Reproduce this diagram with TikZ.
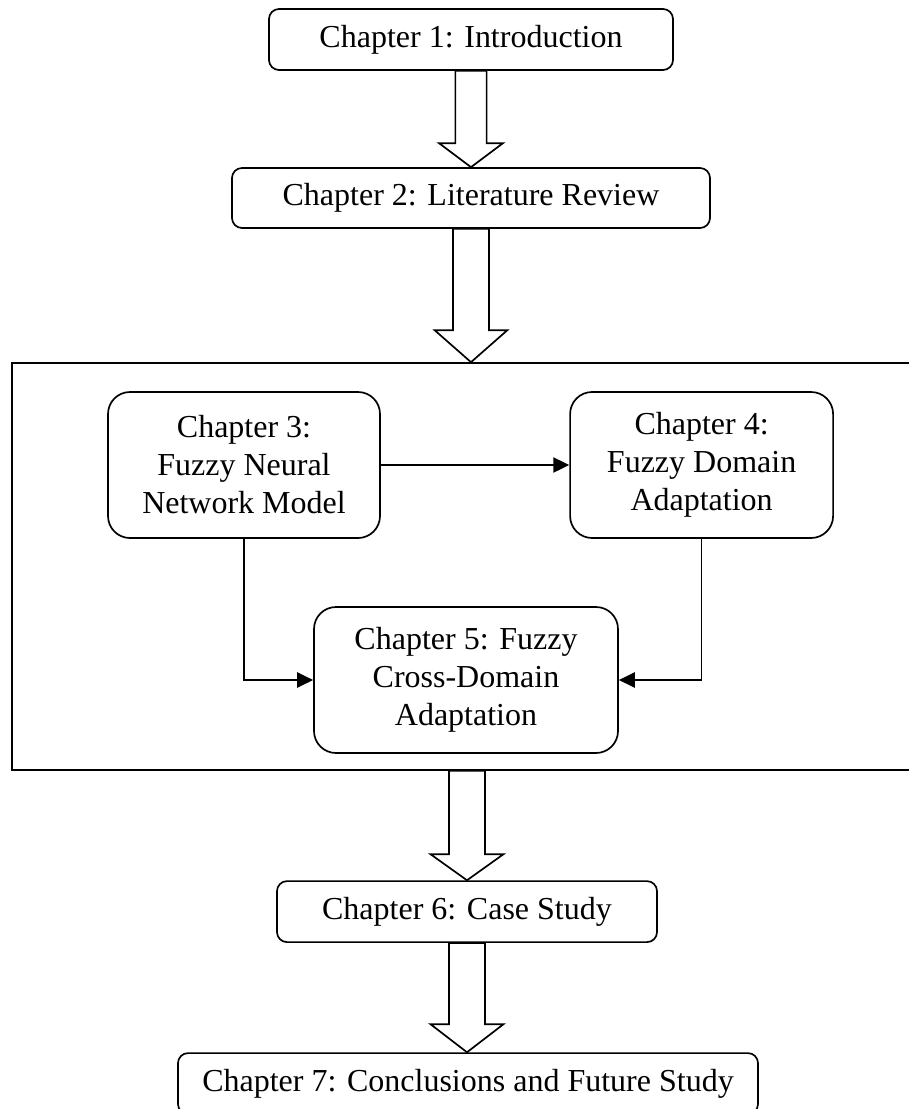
\documentclass[tikz,border=0pt]{standalone}
\usepackage{fontspec}
\setmainfont{Liberation Serif}
\usetikzlibrary{arrows.meta,calc}
\tikzset{
  chapbox/.style={draw,line width=1.2pt,rounded corners=0.25cm,align=center,inner sep=0pt,
    font=\fontsize{22.76pt}{27pt}\selectfont},
  bigbox/.style={chapbox,rounded corners=0.55cm,minimum height=3.65cm},
  link/.style={line width=1.2pt,-{Triangle[length=0.4cm,width=0.38cm]}}
}
% hollow block arrow: from, to, half shaft, half head, head length
\newcommand{\fatarrow}[5]{%
  \draw[line width=1.2pt,fill=white] let \p1=(#1),\p2=(#2) in
    (\x1-#3,\y1) -- (\x1-#3,\y2+#5) -- (\x1-#4,\y2+#5) -- (\x1,\y2)
    -- (\x1+#4,\y2+#5) -- (\x1+#3,\y2+#5) -- (\x1+#3,\y1) -- cycle;}

\begin{document}
\begin{tikzpicture}
    \useasboundingbox (0,0) rectangle (22.725,-27.725);
    \node[chapbox,minimum width=10.1cm,minimum height=1.525cm] (ch1) at (11.775,-0.9875) {Chapter 1: Introduction};
    \node[chapbox,minimum width=11.95cm,minimum height=1.5cm] (ch2) at (11.775,-4.95) {Chapter 2: Literature Review};
    % frame round chapters 3--5
    \node[draw,line width=1.2pt,inner sep=0pt,minimum width=22.95cm,minimum height=10.175cm] (part) at (11.775,-14.1625) {};
    \node[bigbox,minimum width=6.8cm] (ch3) at (6.1,-11.625) {Chapter 3:\\Fuzzy Neural\\Network Model};
    \node[bigbox,minimum width=6.575cm] (ch4) at (17.54,-11.625) {Chapter 4:\\Fuzzy Domain\\Adaptation};
    \node[bigbox,minimum width=7.6cm] (ch5) at (11.65,-17.0) {Chapter 5: Fuzzy\\Cross-Domain\\Adaptation};
    \node[chapbox,minimum width=9.5cm,minimum height=1.525cm] (ch6) at (11.675,-22.79) {Chapter 6: Case Study};
    \node[chapbox,minimum width=14.5cm,minimum height=1.525cm] (ch7) at (11.7,-27.09) {Chapter 7: Conclusions and Future Study};

    \draw[link] (ch3) -- (ch4);
    \draw[link] (ch3.south) |- (ch5.west);
    \draw[link] (ch4.south) |- (ch5.east);

    \fatarrow{ch1.south}{ch2.north}{0.39cm}{0.8cm}{0.6cm}
    \fatarrow{ch2.south}{ch2.south |- part.north}{0.45cm}{0.91cm}{0.8cm}
    \fatarrow{ch6.north |- part.south}{ch6.north}{0.45cm}{0.91cm}{0.65cm}
    \fatarrow{ch6.south}{ch7.north}{0.45cm}{0.91cm}{0.7cm}
\end{tikzpicture}
\end{document}
